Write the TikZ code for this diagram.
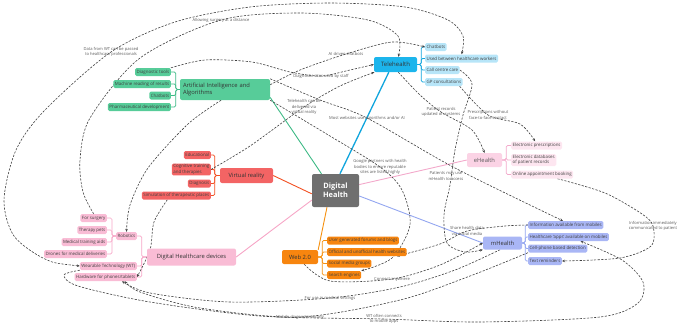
\documentclass[tikz,border=0pt]{standalone}
\usepackage{fontspec}
\setmainfont{Open Sans}
\usepackage{tikz}
\usetikzlibrary{arrows.meta}

\definecolor{hubG}{HTML}{6F6F6F}
\definecolor{aiG}{HTML}{57CC99}
\definecolor{aiLine}{HTML}{3DB985}
\definecolor{teleB}{HTML}{1CB5EC}
\definecolor{teleLt}{HTML}{B7E5F8}
\definecolor{teleLine}{HTML}{10A5DD}
\definecolor{vrR}{HTML}{F36464}
\definecolor{vrLine}{HTML}{F25022}
\definecolor{devP}{HTML}{F9BCD5}
\definecolor{devLine}{HTML}{F6A5C6}
\definecolor{webO}{HTML}{F7850F}
\definecolor{webLine}{HTML}{F5900F}
\definecolor{ehP}{HTML}{FBD3E5}
\definecolor{ehLt}{HTML}{FDE6F0}
\definecolor{ehLine}{HTML}{F3A9CB}
\definecolor{mhB}{HTML}{A9B6F5}
\definecolor{mhLine}{HTML}{93A6F0}
\definecolor{xgray}{HTML}{404040}

\pgfdeclarelayer{bg}
\pgfsetlayers{bg,main}

\begin{document}
\begin{tikzpicture}[
  x=1pt,y=-1pt,
  line cap=round,line join=round,
  hub/.style={fill=hubG,text=white,rounded corners=2pt,align=center,
    minimum width=47pt,minimum height=33pt,inner sep=1pt,
    font=\bfseries\fontsize{7.4}{9.2}\selectfont},
  topic/.style={rounded corners=2pt,inner sep=2pt,align=center,text=black!80,
    font=\fontsize{5.8}{7}\selectfont},
  leaf/.style={rounded corners=1.5pt,inner xsep=1.5pt,inner ysep=1.2pt,
    minimum height=8pt,align=left,text=black!75,
    font=\fontsize{4.4}{5.2}\selectfont},
  lbl/.style={align=center,text=black!65,inner sep=0.5pt,
    font=\fontsize{4.1}{5.8}\selectfont},
  branch/.style={line width=0.9pt},
  fork/.style={line width=0.7pt,rounded corners=1.5pt},
  xlink/.style={draw=xgray,line width=0.6pt,dash pattern=on 2.2pt off 1.4pt,
    -{Stealth[length=3pt,width=2.6pt]}},
  xboth/.style={xlink,{Stealth[length=3pt,width=2.6pt]}-{Stealth[length=3pt,width=2.6pt]}}
]
  \useasboundingbox (0,0) rectangle (680,325);

  % Centre
  \node[hub] (dh) at (335.5,190.5) {Digital\\Health};

  % Main topics
  \node[topic,fill=aiG,minimum width=90pt,minimum height=21pt,text width=84pt,align=left]
    (ai) at (225,89.5) {Artificial Intelligence and\\Algorithms};
  \node[topic,fill=teleB,minimum width=43pt,minimum height=15pt,font=\fontsize{6}{7}\selectfont]
    (tele) at (395.5,64.5) {Telehealth};
  \node[topic,fill=vrR,minimum width=53pt,minimum height=15pt] (vr) at (246.5,175.5) {Virtual reality};
  \node[topic,fill=devP,minimum width=89pt,minimum height=17pt] (dev) at (191.5,257) {Digital Healthcare devices};
  \node[topic,fill=webO,minimum width=36pt,minimum height=14pt] (web) at (300,257) {Web 2.0};
  \node[topic,fill=ehP,minimum width=35pt,minimum height=14pt,text=black!65] (eh) at (484.5,160) {eHealth};
  \node[topic,fill=mhB,minimum width=39pt,minimum height=13pt] (mh) at (502.5,243) {mHealth};

  % AI leaves
  \node[leaf,fill=aiG,anchor=east] (diag) at (171,72) {Diagnostic tools};
  \node[leaf,fill=aiG,anchor=east] (mach) at (171,84) {Machine reading of results};
  \node[leaf,fill=aiG,anchor=east] (chat) at (171,95.5) {Chatbots};
  \node[leaf,fill=aiG,anchor=east] (pharm) at (171,107) {Pharmaceutical development};

  % Telehealth leaves
  \node[leaf,fill=teleLt,anchor=west] (tchat) at (425,47) {Chatbots};
  \node[leaf,fill=teleLt,anchor=west] (thw) at (425,58.5) {Used between healthcare workers};
  \node[leaf,fill=teleLt,anchor=west] (tcall) at (425,70) {Call centre care};
  \node[leaf,fill=teleLt,anchor=west] (tgp) at (425,82) {GP consultations};

  % Virtual reality leaves
  \node[leaf,fill=vrR,anchor=east] (edu) at (211,155) {Educational};
  \node[leaf,fill=vrR,anchor=east] (cog) at (211,169.5) {Cognitive training\\and therapies};
  \node[leaf,fill=vrR,anchor=east] (diagn) at (211,183.5) {Diagnosis};
  \node[leaf,fill=vrR,anchor=east] (sim) at (211,195.5) {Simulation of therapeutic places};

  % Device leaves
  \node[leaf,fill=devP,anchor=east] (rob) at (137,236) {Robotics};
  \node[leaf,fill=devP,anchor=east] (wt) at (137,266) {Wearable Technology (WT)};
  \node[leaf,fill=devP,anchor=east] (hw) at (137,277) {Hardware for phones/tablets};
  \node[leaf,fill=devP,anchor=east] (surg) at (107,218) {For surgery};
  \node[leaf,fill=devP,anchor=east] (pets) at (107,230) {Therapy pets};
  \node[leaf,fill=devP,anchor=east] (train) at (107,242) {Medical training aids};
  \node[leaf,fill=devP,anchor=east] (drones) at (107,254) {Drones for medical deliveries};

  % Web 2.0 leaves
  \node[leaf,fill=webO,anchor=west] (forums) at (327,240.5) {User generated forums and blogs};
  \node[leaf,fill=webO,anchor=west] (sites) at (327,252) {Official and unofficial health websites};
  \node[leaf,fill=webO,anchor=west] (social) at (327,263.5) {Social media groups};
  \node[leaf,fill=webO,anchor=west] (search) at (327,275) {Search engines};

  % eHealth leaves
  \node[leaf,fill=ehLt,anchor=west] (epres) at (511,145.5) {Electronic prescriptions};
  \node[leaf,fill=ehLt,anchor=west] (edb) at (511,160) {Electronic databases\\of patient records};
  \node[leaf,fill=ehLt,anchor=west] (eapp) at (511,174.5) {Online appointment booking};

  % mHealth leaves
  \node[leaf,fill=mhB,anchor=west] (minfo) at (528,225) {Information available from mobiles};
  \node[leaf,fill=mhB,anchor=west] (mapps) at (528,237) {Healthcare `apps' available on mobiles};
  \node[leaf,fill=mhB,anchor=west] (mcell) at (528,248.5) {Cell-phone based detection};
  \node[leaf,fill=mhB,anchor=west] (mtext) at (528,261) {Text reminders};

  % Link labels
  \node[lbl] (lwt) at (111,52) {Data from WT can be passed\\to healthcare professionals};
  \node[lbl] (lsurg) at (221,20) {Allowing surgery at a distance};
  \node[lbl] (lchat) at (346,54) {AI driven chatbots};
  \node[lbl] (ldiag) at (321,76) {Diagnostic sites used by staff};
  \node[lbl] (ltv) at (304,107) {Telehealth can be\\delivered via\\virtual reality};
  \node[lbl] (lweb) at (367,118) {Most websites use algorithms and/or AI};
  \node[lbl] (lrec) at (441,112) {Patient records\\updated on systems};
  \node[lbl] (lpres) at (488,115) {Prescriptions without\\face-to-face contact};
  \node[lbl] (lgoog) at (380,167) {Google partners with health\\bodies to ensure reputable\\sites are listed highly};
  \node[lbl] (lpat) at (446,176) {Patients may use\\mHealth to access};
  \node[lbl] (lshare) at (467,231) {Share health data\\via social media};
  \node[lbl] (linfo) at (653,226) {Information immediately\\communicated to patient};
  \node[lbl] (lconn) at (392,279) {Connect anywhere};
  \node[lbl] (lmed) at (330,298) {For use in medical settings};
  \node[lbl] (lmob) at (300,317) {Mobile diagnostic testing};
  \node[lbl] (lwtapp) at (384,319) {WT often connects\\to mobile apps};

  \begin{pgfonlayer}{bg}
    % Branches from the centre
    \draw[branch,draw=aiLine] (ai.-10) -- (dh.130);
    \draw[branch,draw=teleLine,line width=1.3pt] (dh.75) -- (tele.-131);
    \draw[branch,draw=vrLine] (vr.east) -- (dh.188);
    \draw[branch,draw=devLine] (dev.east) -- (dh.202);
    \draw[branch,draw=webLine] (dh.243) -- (web.north east);
    \draw[branch,draw=ehLine] (dh.14) -- (eh.west);
    \draw[branch,draw=mhLine] (dh.-13) -- (mh.west);

    % Forks to the leaves
    \foreach \c in {diag,mach,chat,pharm}
      \draw[fork,draw=aiLine] (ai.west) -- ++(-4,0) |- (\c.east);
    \foreach \c in {tchat,thw,tcall,tgp}
      \draw[fork,draw=teleLine] (tele.east) -- ++(4,0) |- (\c.west);
    \foreach \c in {edu,cog,diagn,sim}
      \draw[fork,draw=vrLine] (vr.west) -- ++(-5,0) |- (\c.east);
    \foreach \c in {rob,wt,hw}
      \draw[fork,draw=devLine] (dev.west) -- ++(-5,0) |- (\c.east);
    \foreach \c in {surg,pets,train,drones}
      \draw[fork,draw=devLine] (rob.west) -- ++(-4,0) |- (\c.east);
    \foreach \c in {forums,sites,social,search}
      \draw[fork,draw=webLine] (web.east) -- ++(4,0) |- (\c.west);
    \foreach \c in {epres,edb,eapp}
      \draw[fork,draw=ehLine] (eh.east) -- ++(4,0) |- (\c.west);
    \foreach \c in {minfo,mapps,mcell,mtext}
      \draw[fork,draw=mhLine] (mh.east) -- ++(3,0) |- (\c.west);

    % Cross links
    \draw[xboth] plot[smooth] coordinates {(wt.west) (45,259) (14,236) (4,200) (16,150) (45,110)
      (lwt.center) (175,22) (250,7) (330,3) (405,7) (448,20) (463,36) (thw.north)};
    \draw[xlink] plot[smooth] coordinates {(surg.north) (83,192) (80,160) (90,118) (140,58)
      (lsurg.center) (300,13) (368,20) (398,36) (tele.70)};
    \draw[xlink] plot[smooth] coordinates {(ai.6) (300,70) (lchat.center) (392,42) (tchat.west)};
    \draw[xlink] plot[smooth] coordinates {(diag.north east) (205,60) (252,62) (290,72)
      (ldiag.center) (350,70) (tele.west)};
    \draw[xlink] plot[smooth] coordinates {(cog.east) (250,146) (ltv.center) (340,86) (tele.-160)};
    \draw[xlink] plot[smooth] coordinates {(ai.north east) (320,100) (lweb.center) (455,168) (minfo.125)};
    \draw[xlink] plot[smooth] coordinates {(ai.south east) (325,133) (lgoog.center) (402,190)
      (410,225) (392,258) (search.north east)};
    \draw[xlink] plot[smooth] coordinates {(ai.250) (188,124) (148,168) (130,205) (rob.north)};
    \draw[xlink] plot[smooth] coordinates {(sim.-155) (154,222) (150,250) (hw.east)};
    \draw[xlink] plot[smooth] coordinates {(tele.-70) (420,95) (lrec.center) (472,130) (eh.north)};
    \draw[xlink] plot[smooth] coordinates {(tgp.-15) (lpres.center) (520,124) (epres.110)};
    \draw[xlink] plot[smooth] coordinates {(tcall.east) (472,84) (463,115) (455,150) (450,185)
      (444,215) (447,243) (465,252) (mh.south west)};
    \draw[xlink] plot[smooth] coordinates {(web.-60) (330,281) (lconn.center) (440,265) (mh.west)};
    \draw[xlink] plot[smooth] coordinates {(mh.-110) (455,270) (400,287) (lmed.center) (230,302)
      (150,293) ([xshift=-15pt]hw.south east)};
    \draw[xlink] plot[smooth] coordinates {(mcell.south west) (470,276) (400,300) (lmob.center)
      (200,308) (140,292) ([xshift=-12pt]hw.south east)};
    \draw[xlink] plot[smooth] coordinates {(wt.south west) (64,275) (78,286) (150,302) (260,316)
      (lwtapp.center) (480,322) (600,317) (638,303) (643,282) (622,260) ([xshift=12pt]mapps.south)};
    \draw[xlink] plot[smooth] coordinates {([xshift=-16pt]eapp.south east) (605,193) (642,214)
      (linfo.center) (651,246) (620,258) (mtext.east)};
    \draw[xlink] plot[smooth] coordinates {(minfo.west) (505,226) (lshare.center) (440,244)
      ([xshift=-10pt]sites.south east)};
  \end{pgfonlayer}
\end{tikzpicture}
\end{document}
